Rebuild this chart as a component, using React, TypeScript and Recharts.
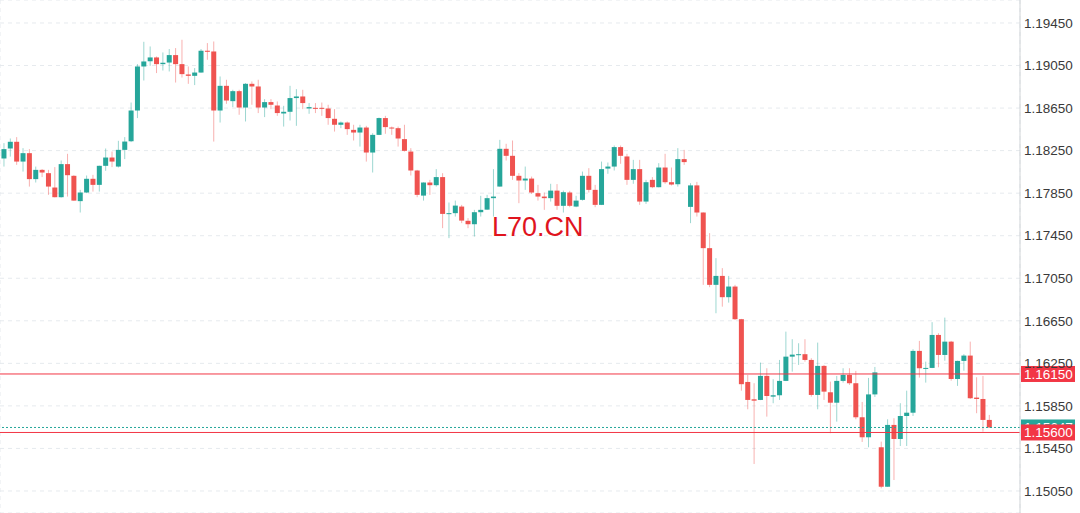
import React from "react";
import {
  ComposedChart,
  Bar,
  XAxis,
  YAxis,
  CartesianGrid,
  ReferenceLine,
} from "recharts";

const opens = [
  1.18176, 1.1827, 1.18333, 1.18147, 1.18226, 1.17982, 1.18069, 1.18038, 1.17903, 1.17812,
  1.18123, 1.18013, 1.17775, 1.17856, 1.17985, 1.17928, 1.18107, 1.18185, 1.181, 1.18257,
  1.18338, 1.18627, 1.19041, 1.1909, 1.19126, 1.19063, 1.19078, 1.19148, 1.19063, 1.18966,
  1.18953, 1.18984, 1.19189, 1.19182, 1.18627, 1.18859, 1.18715, 1.18809, 1.18655, 1.18878,
  1.18853, 1.18655, 1.18706, 1.18674, 1.18599, 1.18615, 1.18744, 1.18759, 1.18646, 1.18652,
  1.18652, 1.18646, 1.18549, 1.18493, 1.18514, 1.18445, 1.1842, 1.18467, 1.18232, 1.18398,
  1.18556, 1.18467, 1.18461, 1.18358, 1.18241, 1.18063, 1.17827, 1.1795, 1.17925, 1.18001,
  1.17655, 1.17662, 1.17724, 1.1759, 1.17558, 1.17671, 1.17695, 1.17803, 1.17912, 1.18267,
  1.18201, 1.18013, 1.17969, 1.17987, 1.1785, 1.17818, 1.17803, 1.17874, 1.17731, 1.17856,
  1.17724, 1.17787, 1.18013, 1.17881, 1.1774, 1.18081, 1.181, 1.18283, 1.18195, 1.17975,
  1.18076, 1.17771, 1.17975, 1.17906, 1.18091, 1.17953, 1.17934, 1.1817, 1.17721, 1.17923,
  1.17668, 1.17333, 1.16988, 1.17072, 1.16872, 1.16972, 1.16665, 1.16075, 1.15912, 1.15906,
  1.16132, 1.15937, 1.1595, 1.16085, 1.16313, 1.1633, 1.16336, 1.16282, 1.15953, 1.16226,
  1.15978, 1.1588, 1.16085, 1.16141, 1.16063, 1.15743, 1.15555, 1.15958, 1.15461, 1.1509,
  1.15671, 1.15539, 1.15755, 1.15786, 1.16367, 1.162, 1.16207, 1.16517, 1.16329, 1.16454,
  1.16103, 1.16273, 1.16323, 1.15928, 1.15915, 1.15718,
];

const closes = [
  1.18264, 1.18333, 1.18147, 1.18226, 1.17982, 1.18069, 1.18044, 1.17912, 1.17812, 1.18123,
  1.18019, 1.1778, 1.17856, 1.17985, 1.17928, 1.18107, 1.18185, 1.18147, 1.18257, 1.18335,
  1.18627, 1.19041, 1.19088, 1.19126, 1.19063, 1.19076, 1.19148, 1.19063, 1.18969, 1.18953,
  1.18984, 1.19189, 1.19179, 1.18627, 1.18859, 1.18721, 1.18809, 1.18655, 1.18878, 1.18853,
  1.18655, 1.18706, 1.18681, 1.18603, 1.18615, 1.18744, 1.18759, 1.18697, 1.18659, 1.18646,
  1.18645, 1.18556, 1.18493, 1.18514, 1.18452, 1.1842, 1.18467, 1.18232, 1.18398, 1.18556,
  1.18471, 1.18458, 1.18364, 1.18248, 1.18063, 1.17834, 1.1795, 1.17925, 1.18001, 1.17655,
  1.17662, 1.17733, 1.17592, 1.17558, 1.17671, 1.17693, 1.17803, 1.17818, 1.18267, 1.18201,
  1.18013, 1.17969, 1.17987, 1.17856, 1.17818, 1.17803, 1.17874, 1.17731, 1.17859, 1.17731,
  1.1778, 1.18013, 1.17881, 1.1774, 1.18076, 1.181, 1.18283, 1.18201, 1.17975, 1.18076,
  1.17771, 1.17953, 1.17906, 1.18091, 1.17953, 1.17931, 1.1817, 1.18142, 1.17923, 1.17668,
  1.17333, 1.16988, 1.17072, 1.16872, 1.16972, 1.16665, 1.16054, 1.15906, 1.15899, 1.16132,
  1.15943, 1.1595, 1.16085, 1.16313, 1.16332, 1.16336, 1.16282, 1.15953, 1.16226, 1.15984,
  1.1588, 1.16085, 1.16141, 1.16063, 1.15743, 1.15555, 1.15958, 1.16165, 1.1509, 1.15671,
  1.15539, 1.15755, 1.15786, 1.16367, 1.16204, 1.16207, 1.16517, 1.16329, 1.16454, 1.16103,
  1.16273, 1.16323, 1.15922, 1.15915, 1.15718, 1.15647,
];

const highs = [
  1.1832, 1.18364, 1.18377, 1.18273, 1.18264, 1.181, 1.18076, 1.18069, 1.18095, 1.18157,
  1.1822, 1.18019, 1.17881, 1.18016, 1.18022, 1.18109, 1.1827, 1.18241, 1.18342, 1.18377,
  1.18702, 1.19063, 1.19273, 1.19229, 1.19135, 1.19173, 1.19205, 1.19214, 1.19292, 1.19041,
  1.19026, 1.19205, 1.19261, 1.19276, 1.18947, 1.18916, 1.18822, 1.18822, 1.18885, 1.189,
  1.18916, 1.18734, 1.18734, 1.18712, 1.18671, 1.18859, 1.18828, 1.18822, 1.18697, 1.18697,
  1.18702, 1.18681, 1.1864, 1.18524, 1.18524, 1.18493, 1.18493, 1.18483, 1.18414, 1.18561,
  1.18577, 1.18476, 1.18476, 1.18493, 1.18273, 1.18069, 1.17952, 1.17975, 1.18076, 1.18038,
  1.17762, 1.1778, 1.1774, 1.17615, 1.17693, 1.17825, 1.17834, 1.18076, 1.18351, 1.18314,
  1.18345, 1.18038, 1.181, 1.18006, 1.17928, 1.17856, 1.17938, 1.17935, 1.17874, 1.17872,
  1.17825, 1.18053, 1.18085, 1.17928, 1.18147, 1.18138, 1.18298, 1.18298, 1.1822, 1.18163,
  1.18163, 1.17975, 1.18001, 1.18132, 1.1822, 1.18091, 1.18273, 1.18257, 1.17944, 1.17956,
  1.1767, 1.17474, 1.17239, 1.17145, 1.17072, 1.16988, 1.16668, 1.16141, 1.16063, 1.16257,
  1.16204, 1.16101, 1.16282, 1.16548, 1.16477, 1.16439, 1.16477, 1.16298, 1.16445, 1.16235,
  1.16078, 1.16132, 1.16204, 1.16204, 1.16179, 1.15887, 1.16113, 1.16216, 1.15514, 1.15724,
  1.15734, 1.15875, 1.15993, 1.16383, 1.16461, 1.16266, 1.16637, 1.16533, 1.1668, 1.16461,
  1.16275, 1.16336, 1.16454, 1.16119, 1.16132, 1.15765,
];

const lows = [
  1.181, 1.18194, 1.18116, 1.18053, 1.17912, 1.1795, 1.18001, 1.17834, 1.1781, 1.17808,
  1.17818, 1.17778, 1.17668, 1.1785, 1.17865, 1.17865, 1.1806, 1.18095, 1.18091, 1.1817,
  1.1833, 1.18556, 1.18909, 1.19047, 1.18979, 1.19003, 1.18994, 1.1889, 1.18937, 1.18878,
  1.18866, 1.18982, 1.19104, 1.18335, 1.18514, 1.1869, 1.18659, 1.18587, 1.18524, 1.18681,
  1.18603, 1.18565, 1.1864, 1.18577, 1.18476, 1.18533, 1.18483, 1.1864, 1.18596, 1.18603,
  1.18577, 1.18493, 1.18429, 1.18461, 1.18398, 1.18345, 1.18288, 1.18147, 1.18044, 1.18396,
  1.18408, 1.18398, 1.18288, 1.18241, 1.18016, 1.17812, 1.1778, 1.17834, 1.17912, 1.17521,
  1.17427, 1.1763, 1.17568, 1.17521, 1.17442, 1.1763, 1.17693, 1.1763, 1.1791, 1.18157,
  1.17975, 1.17756, 1.17881, 1.17843, 1.1778, 1.17693, 1.17771, 1.17693, 1.17668, 1.17718,
  1.17718, 1.1778, 1.17856, 1.17718, 1.17738, 1.18032, 1.18063, 1.18126, 1.17928, 1.17938,
  1.1774, 1.17749, 1.17897, 1.17904, 1.17938, 1.17922, 1.17912, 1.18116, 1.17568, 1.1763,
  1.16988, 1.16966, 1.16721, 1.16783, 1.16821, 1.16658, 1.15993, 1.15818, 1.15304, 1.15904,
  1.15749, 1.15875, 1.15906, 1.16083, 1.16172, 1.16235, 1.16266, 1.15937, 1.15818, 1.15906,
  1.15593, 1.15702, 1.16069, 1.16047, 1.15724, 1.15511, 1.15461, 1.15934, 1.15075, 1.15088,
  1.15153, 1.15473, 1.15473, 1.15755, 1.16116, 1.16069, 1.16205, 1.16213, 1.16275, 1.16087,
  1.16038, 1.16181, 1.15915, 1.15781, 1.15608, 1.15645,
];

const priceTicks = [
  1.1505, 1.1545, 1.1585, 1.1625, 1.1665, 1.1705, 1.1745, 1.1785, 1.1825, 1.1865, 1.1905, 1.1945,
];
const gridSlots = [3, 11, 19, 27, 35, 43, 51, 59, 67, 75, 83, 91, 99, 107, 115, 123, 131, 139, 147, 155];
const levelLines = [1.1615, 1.156];
const lastPrice = 1.15647;
const watermark = "L70.CN";

const GREEN = "#26a69a";
const RED = "#ef5350";
const LEVEL_RED = "#f23645";
const FONT = "'Liberation Sans', Arial, Helvetica, sans-serif";

const data = opens.map((o, i) => ({
  i,
  open: o,
  close: closes[i],
  high: highs[i],
  low: lows[i],
}));

const Candle = (props: any) => {
  const { x, y, width, height, payload } = props;
  if (x == null || y == null || payload == null) return null;
  const { open, close, high, low } = payload;
  const top = Math.min(y, y + height);
  const bot = Math.max(y, y + height);
  const range = high - low;
  const ratio = range > 0 ? (bot - top) / range : 0;
  const yOf = (v: number) => top + (high - v) * ratio;
  const cx = x + width / 2;
  const up = close >= open;
  const color = up ? GREEN : RED;
  const bTop = yOf(Math.max(open, close));
  const bBot = yOf(Math.min(open, close));
  return (
    <g>
      <line x1={cx} x2={cx} y1={top} y2={bot} stroke={color} strokeOpacity={0.45} strokeWidth={1} />
      <rect x={cx - 2.5} y={bTop} width={5} height={Math.max(1, bBot - bTop)} fill={color} />
    </g>
  );
};

const makePriceLabel = (text: string, fill: string) => (props: any) => {
  const vb = props.viewBox || {};
  const lx = (vb.x || 0) + (vb.width || 0) + 1;
  const ly = vb.y || 0;
  return (
    <g>
      <rect x={lx} y={ly - 8} width={54} height={16} fill={fill} />
      <text
        x={lx + 3}
        y={ly}
        dy="0.36em"
        fill="#ffffff"
        fontSize={13.5}
        fontFamily={FONT}
      >
        {text}
      </text>
    </g>
  );
};

export default function App() {
  return (
    <div style={{ position: "relative", width: 1080, height: 513, background: "#ffffff" }}>
      <style>{"body{margin:0;background:#fff;}"}</style>
      <ComposedChart
        width={1080}
        height={513}
        data={data}
        margin={{ top: 0, right: 0, bottom: 0, left: 0 }}
      >
        <CartesianGrid stroke="#e6eaee" strokeDasharray="4 4" />
        <XAxis
          dataKey="i"
          type="number"
          domain={[-0.629, 159.82]}
          allowDataOverflow
          ticks={gridSlots}
          height={0}
          tick={false}
          tickLine={false}
          axisLine={false}
        />
        <YAxis
          orientation="right"
          width={60}
          type="number"
          domain={[1.14843, 1.19666]}
          allowDataOverflow
          ticks={priceTicks}
          interval={0}
          tickFormatter={(v: number) => v.toFixed(5)}
          tickLine={false}
          tickSize={2}
          tickMargin={2}
          axisLine={{ stroke: "#cfd3d6" }}
          tick={{ fill: "#3a3a3a", fontSize: 13.5, fontFamily: FONT }}
        />
        <Bar
          dataKey={(d: any) => [d.low, d.high]}
          shape={Candle}
          isAnimationActive={false}
        />
        <ReferenceLine
          y={lastPrice}
          stroke={GREEN}
          strokeDasharray="2 2"
          label={makePriceLabel(lastPrice.toFixed(5), GREEN)}
        />
        <ReferenceLine
          y={levelLines[0]}
          stroke={LEVEL_RED}
          strokeWidth={1}
          label={makePriceLabel(levelLines[0].toFixed(5), LEVEL_RED)}
        />
        <ReferenceLine
          y={levelLines[1]}
          stroke={LEVEL_RED}
          strokeWidth={1}
          label={makePriceLabel(levelLines[1].toFixed(5), LEVEL_RED)}
        />
      </ComposedChart>
      <svg
        width={1080}
        height={513}
        style={{ position: "absolute", left: 0, top: 0, pointerEvents: "none" }}
      >
        <text x={492} y={236} fill="#e0141e" fontSize={27} fontFamily={FONT}>
          {watermark}
        </text>
      </svg>
    </div>
  );
}
